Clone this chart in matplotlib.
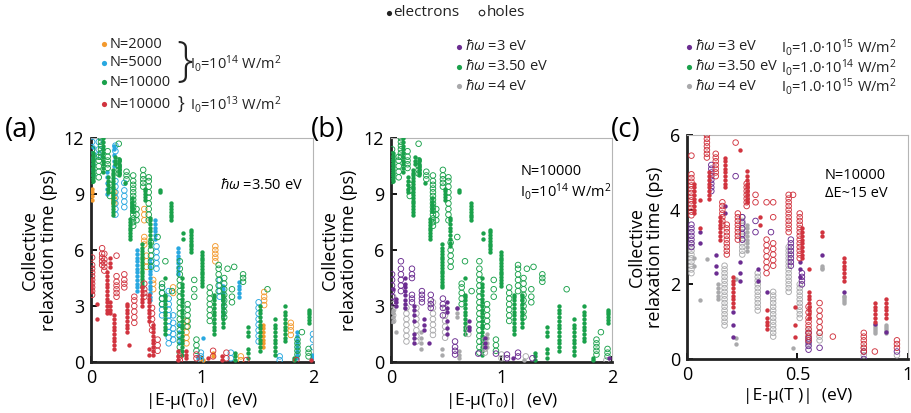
import matplotlib.pyplot as plt

plt.rcParams['font.family'] = ['Open Sans', 'DejaVu Sans']
plt.rcParams['mathtext.fontset'] = 'custom'
plt.rcParams['mathtext.rm'] = 'Open Sans'
plt.rcParams['mathtext.it'] = 'Open Sans:italic'

ORANGE = '#f39a2e'
BLUE = '#29a8e0'
GREEN = '#1aa14b'
RED = '#d1343f'
PURPLE = '#6b2c91'
GRAY = '#a9a9ab'

# --- data: (energy, [relaxation times]) for each level cluster ---
# N=10000, I0=1e14, hw=3.50 eV (panel a and b)
GREEN_E = [
    (0.02, [9.7, 9.85, 10.0, 10.15, 10.3, 10.45, 10.6, 10.75, 10.9, 11.05, 11.2]),
    (0.11, [10.2, 10.4, 10.6, 10.8, 11.0, 11.2, 11.4, 11.6, 11.8, 12.0]),
    (0.15, [9.1, 9.3, 9.5, 9.7, 9.9]),
    (0.20, [7.9, 8.05, 8.2, 8.35, 8.5, 8.65, 8.8, 8.95, 9.1, 9.25, 9.4, 9.55, 9.7, 9.85, 10.0, 10.15, 10.3]),
    (0.22, [10.6, 10.8, 11.0]),
    (0.25, [10.0, 10.15, 10.3, 10.45, 10.6, 10.75, 10.9]),
    (0.31, [9.6]),
    (0.35, [6.6, 6.75, 6.9, 7.05, 7.2, 7.35, 7.5, 7.65]),
    (0.37, [8.1, 8.25, 8.4, 8.6, 8.8]),
    (0.46, [4.0, 4.15, 4.3, 4.45, 4.6, 4.75, 4.9, 5.05, 5.2, 5.35, 5.5, 5.65, 5.8, 5.95, 6.1, 6.3]),
    (0.49, [8.7, 8.85, 9.0, 9.15, 9.3]),
    (0.53, [6.2, 6.4, 6.6, 6.8, 7.0, 7.2, 7.4, 7.6, 7.7]),
    (0.62, [9.1, 9.2]),
    (0.67, [1.5, 1.7, 1.9, 2.1, 2.3, 2.5, 2.7, 2.9, 3.1, 3.3, 3.5, 3.6, 4.5]),
    (0.72, [7.6, 7.75, 7.9, 8.05, 8.2, 8.35, 8.5]),
    (0.82, [0.4, 0.6, 0.8, 1.0, 1.2, 1.4, 1.6, 1.8, 2.0, 2.2, 2.4, 2.6, 2.8, 3.0, 3.2, 3.4, 3.6, 3.8,
            4.0, 4.2, 4.5]),
    (0.83, [6.6, 6.9]),
    (0.90, [5.9, 6.05, 6.2, 6.35, 6.5, 6.65, 6.8, 6.95, 7.1]),
    (1.00, [4.1, 4.25, 4.4, 4.55, 4.7, 4.85, 5.0, 5.15, 5.3, 5.45, 5.6, 5.75, 5.9]),
    (1.11, [1.5, 1.7, 1.9, 2.1, 2.3, 2.5, 2.7, 2.9, 3.1, 3.3, 3.5, 3.6]),
    (1.19, [1.9, 2.1, 2.3, 2.5, 2.7, 2.9, 3.1, 3.3, 3.5, 3.6]),
    (1.30, [0.1, 0.3, 0.5]),
    (1.41, [1.4, 1.6, 1.9, 0.2, 0.5, 0.7]),
    (1.52, [0.6, 0.8, 1.0, 1.2, 1.4, 1.6, 1.8, 2.0, 2.2, 2.4, 2.6, 2.8, 3.0]),
    (1.66, [0.4, 0.6, 0.8, 1.0, 1.2, 1.4, 1.6, 1.8, 2.0, 2.3]),
    (1.75, [1.1, 1.3, 1.5, 1.7, 1.9, 2.1, 2.3, 2.5, 2.7, 3.0]),
    (1.83, [0.1, 0.2]),
    (1.96, [2.1, 2.25, 2.4, 2.55, 2.7, 2.8]),
]
GREEN_H = [
    (0.01, [9.7, 9.9, 10.1, 10.3, 10.5, 10.7, 10.9, 11.1, 11.4]),
    (0.07, [9.9, 10.2, 10.5, 10.8, 11.0]),
    (0.09, [11.0, 11.2, 11.4, 11.6, 11.8, 12.0]),
    (0.15, [10.4, 10.6, 10.8, 11.0, 11.3]),
    (0.17, [8.9, 9.2, 9.5]),
    (0.25, [10.1, 10.3, 10.5, 10.8, 11.7]),
    (0.32, [9.8, 10.0, 10.2]),
    (0.38, [7.3, 7.5, 7.7, 7.9, 8.1, 8.3, 8.5, 8.7, 8.9, 9.1, 9.3, 9.5, 9.7, 10.0]),
    (0.41, [7.6, 7.9, 8.2]),
    (0.47, [9.4, 9.6, 9.8, 10.0, 10.3]),
    (0.52, [7.6, 7.9, 8.2, 8.5, 8.8, 9.1, 9.4, 9.7, 9.9]),
    (0.54, [5.1, 5.4, 5.7, 6.0, 6.4]),
    (0.60, [6.7]),
    (0.64, [3.1, 3.4, 3.7, 4.0, 4.2]),
    (0.67, [5.4]),
    (0.73, [3.8]),
    (0.80, [0.5, 0.8, 1.1, 1.4, 1.7, 2.0, 2.3, 2.6, 2.9, 3.2, 3.5, 3.8, 4.1, 4.4, 4.7, 5.0, 5.4]),
    (0.87, [1.9, 2.2, 2.5, 2.8, 3.1]),
    (0.93, [3.5, 3.9, 4.4]),
    (0.95, [0.6, 0.9, 1.2]),
    (1.07, [2.2, 2.5, 2.8, 3.1, 3.4, 3.7, 4.0]),
    (1.15, [3.8, 4.1, 4.4, 4.7, 5.0, 5.2]),
    (1.20, [2.4, 2.7, 3.0, 3.3, 3.6, 3.9, 4.2, 4.5]),
    (1.23, [5.0]),
    (1.27, [3.2, 3.5, 3.9]),
    (1.29, [5.1]),
    (1.37, [4.3, 4.5, 4.7]),
    (1.59, [3.9]),
    (1.86, [0.4, 0.6, 0.8, 1.0, 1.2]),
    (1.90, [1.6]),
    (1.96, [0.3, 0.5, 0.7]),
]

# panel a: N=5000 / N=2000 at I0=1e14, N=10000 at I0=1e13
BLUE_E = [
    (0.02, [10.0, 10.3, 10.6, 10.9, 11.2, 11.5]),
    (0.14, [9.0, 9.3, 9.6, 9.9, 10.2]),
    (0.21, [10.5, 10.8, 11.1, 11.4, 11.6]),
    (0.41, [3.8, 4.0, 4.2, 4.4, 4.6, 4.8, 5.0, 5.2, 5.4, 5.6, 5.8, 6.0]),
    (0.53, [3.3, 3.5, 3.7, 3.9, 4.1, 4.3, 4.5, 4.7, 4.9, 5.1, 5.3, 5.5]),
    (0.58, [6.6, 6.8, 7.0, 7.2, 7.4, 7.6]),
    (0.78, [4.7, 4.9, 5.1, 5.3, 5.5, 5.7, 5.9, 6.1]),
    (0.79, [1.0, 1.3, 1.6, 2.0]),
    (0.96, [0.2, 0.3]),
    (1.01, [1.3]),
    (1.19, [2.5, 2.7, 2.9, 3.1, 3.3, 3.5, 3.7, 3.9, 4.1]),
    (1.33, [3.5, 3.7, 3.9, 4.1, 4.3]),
    (1.86, [0.2, 0.4, 0.6, 0.8, 1.0, 1.2, 1.4, 1.6]),
    (1.99, [0.2, 0.4]),
]
BLUE_H = [
    (0.01, [10.5, 10.8, 11.1, 11.4, 11.8]),
    (0.07, [11.1, 11.4, 11.8]),
    (0.22, [7.9, 8.2, 8.5, 8.8, 9.1, 9.4, 9.7, 11.3, 11.6]),
    (0.30, [8.3, 8.6, 8.9, 9.2, 9.6]),
    (0.59, [5.0, 5.3, 5.6, 5.9, 6.2]),
    (0.64, [2.5, 2.8, 3.1, 3.4, 3.7, 4.0]),
    (0.70, [1.0, 1.3, 1.6, 1.9, 2.2, 2.5, 2.8, 3.1, 3.4, 3.8]),
    (0.74, [1.2, 1.5, 1.8, 2.1, 2.5]),
    (0.99, [0.1, 0.3, 0.5]),
    (1.16, [3.5, 3.8, 4.1, 4.4]),
    (1.26, [0.2, 0.5]),
    (1.51, [1.1, 1.4, 1.7, 2.0, 2.3, 2.6, 2.9, 3.2]),
    (1.70, [0.1, 0.3]),
    (2.00, [0.8, 1.2, 1.5]),
]
ORANGE_E = [
    (0.01, [8.7, 8.9, 9.1, 9.3]),
    (1.01, [0.1]),
    (1.10, [0.3, 0.5]),
    (1.55, [0.8, 1.0, 1.2, 1.4, 1.6, 1.8, 2.0]),
]
ORANGE_H = [
    (0.21, [8.5, 8.7, 8.9, 9.1]),
    (0.48, [6.3, 6.5, 6.7, 7.6, 7.9, 8.2]),
    (0.50, [5.1, 5.4, 5.7]),
    (0.56, [3.9, 4.2, 4.4]),
    (0.74, [3.7, 4.0]),
    (0.86, [1.0, 1.3, 1.6, 1.9, 2.2]),
    (0.98, [0.2]),
    (1.12, [5.4, 5.6, 5.8, 6.0, 6.2]),
    (1.35, [0.1, 0.3]),
    (1.56, [3.05, 3.3, 3.5, 3.75]),
    (1.80, [1.45, 1.7, 1.9, 2.1]),
]
RED_E = [
    (0.00, [3.8, 4.0, 4.2, 4.4]),
    (0.05, [2.3, 3.1]),
    (0.14, [2.6, 2.8, 3.0, 3.2, 3.4, 3.6, 3.8, 4.0, 4.2, 4.4, 4.6, 4.8]),
    (0.17, [2.6, 2.8, 3.0, 3.2, 5.1, 5.3, 5.6]),
    (0.21, [0.7, 0.9, 1.1, 1.3, 1.5, 1.7, 1.9, 2.1, 2.3, 2.5]),
    (0.32, [1.6, 1.8, 2.0, 2.2, 2.4, 2.6, 2.8, 3.0, 3.1]),
    (0.34, [0.9]),
    (0.46, [3.0, 3.2, 3.4, 3.6, 3.8, 4.0]),
    (0.52, [2.2, 2.4, 2.6, 2.8, 3.0, 3.2, 3.4, 3.6, 0.4, 0.7]),
    (0.56, [0.4, 0.6, 0.8, 1.0, 1.2, 1.4, 1.6, 1.8, 2.0]),
    (0.78, [0.1, 0.3, 0.6]),
    (0.86, [0.2, 0.4, 0.6]),
    (1.05, [0.2]),
    (1.18, [0.1, 0.3]),
    (1.98, [0.1]),
]
RED_H = [
    (0.01, [3.6, 3.8, 4.0, 4.2, 4.4, 4.6, 4.8, 5.0, 5.2, 5.6]),
    (0.10, [5.2, 5.4, 5.6, 5.8, 6.1]),
    (0.12, [4.9, 5.1, 5.3, 5.5, 5.8]),
    (0.23, [3.5, 3.7, 3.9, 4.1, 4.3, 4.6, 5.7]),
    (0.30, [4.0, 4.2, 4.4, 4.7]),
    (0.39, [2.1, 2.4, 2.7, 3.0, 3.3, 3.5]),
    (0.48, [3.5, 3.7, 3.9, 4.2]),
    (0.55, [1.7, 2.0, 2.3, 2.6, 2.9]),
    (0.60, [0.6, 0.9, 1.2]),
    (0.80, [0.1, 0.3]),
    (0.95, [0.2, 0.4]),
    (1.10, [0.3, 0.6]),
    (1.22, [0.2, 0.5]),
    (1.40, [0.1]),
    (1.85, [0.1]),
]

# panel b: hw=3 eV and hw=4 eV
PURPLE_E = [
    (0.02, [3.9]),
    (0.05, [3.0, 3.2, 3.4]),
    (0.13, [2.9, 3.1, 3.3, 3.6, 3.8, 4.0, 4.2, 4.5]),
    (0.21, [2.2, 2.5, 2.8, 3.0, 1.0, 1.3, 1.5]),
    (0.30, [1.7, 2.0, 2.3]),
    (0.34, [1.0]),
    (0.51, [2.7, 2.9, 3.2, 1.5, 1.8, 2.2]),
    (0.60, [2.9]),
    (0.71, [1.7, 1.9, 2.2]),
    (0.85, [0.8, 1.0, 1.3]),
    (1.10, [0.2]),
    (1.97, [0.2]),
]
PURPLE_H = [
    (0.01, [3.2, 3.5, 3.8, 4.1, 4.4, 4.7]),
    (0.09, [3.8, 4.1, 4.4, 4.7, 5.0, 5.4]),
    (0.19, [4.5, 4.7, 5.0, 3.2, 3.4, 3.6]),
    (0.28, [3.2, 3.4, 3.6, 3.8]),
    (0.36, [2.9, 3.1, 3.3, 3.6]),
    (0.47, [2.5, 2.9, 3.1, 3.4]),
    (0.58, [0.4, 0.6, 0.8, 1.1]),
    (0.79, [0.45]),
    (0.95, [0.45]),
    (1.05, [0.2, 0.4]),
    (1.15, [0.3, 0.5]),
    (1.28, [0.2]),
]
GRAY_E = [
    (0.02, [2.2, 2.4, 2.6, 2.8]),
    (0.05, [1.6]),
    (0.27, [0.7, 1.0, 1.3, 1.6]),
    (0.46, [0.4, 0.7]),
    (0.60, [2.4, 2.6, 2.9]),
    (0.62, [0.2, 0.4, 0.6]),
    (0.87, [0.8, 1.0, 1.3, 1.5]),
    (1.20, [0.1]),
]
GRAY_H = [
    (0.02, [2.2, 2.5, 2.8, 3.1, 3.5]),
    (0.14, [1.1, 1.4, 1.7, 2.0, 2.3, 2.6, 2.9]),
    (0.23, [1.1, 1.4, 1.7, 2.0, 2.3, 2.6, 2.9]),
    (0.38, [1.45, 1.7, 2.0, 2.3, 2.6, 2.9, 3.2]),
    (0.49, [1.3, 1.6, 1.9, 2.2, 2.5, 2.9]),
    (0.70, [1.5, 1.8]),
    (0.85, [0.5, 0.7, 0.9, 1.2]),
    (1.00, [0.2, 0.4]),
    (1.22, [0.3]),
    (1.95, [0.1]),
]

# panel c: N=10000, dE~15 eV
C_RED_E = [
    (0.03, [3.9, 4.0, 4.1, 4.2, 4.3, 4.4, 4.5, 4.6, 4.7]),
    (0.06, [3.5, 4.25]),
    (0.10, [4.3, 4.4, 4.5, 4.6, 4.7, 4.8, 4.9, 5.0]),
    (0.15, [3.2, 3.3, 3.4, 3.5, 3.6, 3.7, 3.8]),
    (0.17, [4.6, 4.7, 4.8, 4.9, 5.0, 5.1, 5.2, 5.3, 5.4]),
    (0.21, [1.4, 1.5, 1.6, 1.7, 1.8, 1.9, 2.0, 2.1, 2.2]),
    (0.24, [5.6]),
    (0.27, [4.2, 4.3, 4.4, 4.5, 4.6, 4.7, 4.8, 4.9, 5.05]),
    (0.33, [3.6, 3.8]),
    (0.36, [0.8, 0.9, 1.0, 1.1, 1.3]),
    (0.49, [0.6, 0.9, 1.4]),
    (0.52, [2.7, 2.8, 2.9, 3.0, 3.1, 3.2, 3.3, 3.4, 3.5]),
    (0.55, [1.1, 1.2, 1.3, 1.4, 1.5, 1.6, 1.7, 1.8, 2.4]),
    (0.61, [3.3, 3.4]),
    (0.71, [2.1, 2.2, 2.3, 2.4, 2.5, 2.6, 2.7]),
    (0.85, [1.0, 1.1, 1.2, 1.3, 1.4, 1.5]),
    (0.90, [1.1, 1.2, 1.3, 1.4, 1.5, 1.6]),
]
C_RED_H = [
    (0.02, [3.85, 3.95, 4.05, 4.15, 4.25, 4.35, 4.45, 4.55, 4.65, 4.75, 4.85, 4.95, 5.45]),
    (0.09, [5.4, 5.5, 5.6, 5.7, 5.8, 5.9, 6.0]),
    (0.13, [4.9, 5.0, 5.1, 5.2, 5.3, 5.4, 5.5]),
    (0.16, [3.6, 3.7, 3.8, 3.9, 4.0, 4.1, 4.2]),
    (0.18, [2.8, 2.9, 3.0, 3.1, 3.2, 3.3, 3.4, 3.5, 3.6]),
    (0.22, [5.8]),
    (0.23, [3.2, 3.3, 3.4, 3.5, 3.6, 3.7, 3.8, 3.9]),
    (0.27, [4.1, 4.2, 4.3, 4.4, 4.5, 4.6, 4.7]),
    (0.31, [4.2, 4.4]),
    (0.36, [2.3, 2.45, 2.6, 2.75, 2.9, 3.05, 3.2, 4.2]),
    (0.39, [2.5, 2.65, 2.8, 2.95, 3.1, 3.8, 4.2]),
    (0.46, [3.4, 3.5, 3.6, 3.7, 3.8, 3.9, 4.0, 4.1, 4.2, 4.3, 4.4]),
    (0.48, [4.4]),
    (0.51, [2.7, 2.8, 2.9, 3.0, 3.1, 3.2, 3.3, 3.4, 3.5, 3.6, 3.7, 3.8, 3.9]),
    (0.55, [0.5, 0.6, 0.7, 0.8, 0.9, 1.0, 1.1, 1.25, 1.4]),
    (0.60, [0.7, 0.85, 1.0, 1.15, 1.3, 1.5]),
    (0.66, [0.6]),
    (0.80, [0.2, 0.3, 0.4, 0.5, 0.6, 0.7]),
    (0.85, [0.2]),
    (0.95, [0.3, 0.4, 0.5]),
]
C_PURPLE_E = [
    (0.06, [3.1, 3.4]),
    (0.13, [2.3, 2.5, 2.8]),
    (0.17, [3.9, 4.1]),
    (0.21, [0.6, 0.9, 1.26]),
    (0.24, [2.1, 2.3, 2.6]),
    (0.32, [2.1, 2.4]),
    (0.36, [1.8]),
    (0.51, [2.2, 2.4, 2.6]),
    (0.61, [2.8]),
    (0.71, [1.8]),
    (0.85, [0.95]),
    (0.90, [0.72]),
]
C_PURPLE_H = [
    (0.02, [3.0, 3.1, 3.2, 3.3, 3.4, 3.5, 3.6]),
    (0.11, [4.5, 4.6, 4.7, 4.8, 4.9, 5.0, 5.1, 5.2]),
    (0.22, [4.9]),
    (0.25, [3.2, 3.35, 3.5, 3.65, 3.8]),
    (0.31, [3.4, 3.7]),
    (0.38, [3.4]),
    (0.47, [2.5, 2.6, 2.7, 2.8, 2.9, 3.0, 3.1, 3.2]),
    (0.52, [2.0, 2.1, 2.2, 2.3]),
    (0.55, [0.25, 0.35, 0.45, 0.55, 0.7]),
    (0.60, [0.3]),
    (0.80, [0.0, 0.2]),
    (0.95, [0.2]),
]
C_GRAY_E = [
    (0.03, [2.5, 2.7]),
    (0.06, [1.57]),
    (0.09, [2.68]),
    (0.14, [1.6, 1.7, 1.8, 1.9, 2.0]),
    (0.22, [0.4, 0.55, 2.15]),
    (0.27, [2.9, 3.0, 3.1, 3.2, 3.3, 3.4, 3.5, 3.6]),
    (0.48, [0.3]),
    (0.61, [2.4, 2.45, 2.5]),
    (0.71, [1.5, 1.55, 1.6, 1.65, 1.7]),
    (0.85, [0.7, 0.75, 0.8, 0.85, 0.9]),
    (0.90, [0.7, 0.75, 0.8, 0.85, 0.9]),
]
C_GRAY_H = [
    (0.02, [2.3, 2.4, 2.5, 2.6, 2.7, 2.8, 2.9, 3.0, 3.1]),
    (0.17, [0.9, 1.0, 1.1, 1.2, 1.3, 1.4, 1.5, 1.6, 1.7, 1.8, 1.9, 2.0, 2.1, 2.2, 2.3, 2.4, 2.5]),
    (0.25, [2.8, 2.9, 3.0, 3.1, 3.2, 3.3, 3.4, 3.5, 3.6, 3.7, 3.8]),
    (0.32, [1.3, 1.4, 1.5, 1.6, 1.7, 1.8, 1.9, 2.0, 2.1, 2.2, 2.3]),
    (0.39, [0.6, 0.7, 0.8, 0.9, 1.0, 1.1, 1.2, 1.3, 1.4, 1.5, 1.6, 1.7, 1.8]),
    (0.46, [1.8, 1.9, 2.0, 2.1, 2.2, 2.3, 2.4, 2.5, 2.6, 2.7, 2.8, 2.9, 3.0]),
    (0.51, [1.1, 1.2, 1.3, 1.4, 1.5, 1.6, 1.7, 1.8, 1.9, 2.0]),
    (0.55, [0.4, 0.5, 0.6, 0.7, 0.8]),
    (0.60, [0.5, 0.6, 0.7]),
    (0.80, [0.1, 0.2, 0.3]),
    (0.95, [0.1]),
]


def draw(ax, clusters, color, filled):
    xs = [x for x, ys in clusters for _ in ys]
    ys = [y for _, yy in clusters for y in yy]
    if filled:
        ax.scatter(xs, ys, s=10, color=color, linewidths=0, zorder=3)
    else:
        ax.scatter(xs, ys, s=16, facecolors='none', edgecolors=color, linewidths=0.65, zorder=3)


def style(ax, xmax, ymax, yticks, xticks, xlabel):
    ax.set_xlim(0, xmax)
    ax.set_ylim(0, ymax)
    ax.set_xticks(xticks)
    ax.set_yticks(yticks)
    ax.set_xticklabels([('%g' % t) for t in xticks])
    ax.tick_params(direction='in', length=4, width=1.3, labelsize=13, pad=5)
    for s in ['left', 'bottom']:
        ax.spines[s].set_linewidth(2)
        ax.spines[s].set_color('#222222')
    for s in ['top', 'right']:
        ax.spines[s].set_linewidth(0.8)
        ax.spines[s].set_color('#b5b5b5')
    ax.set_ylabel('Collective\nrelaxation time (ps)', fontsize=13, linespacing=1.05, labelpad=4)
    ax.set_xlabel(xlabel, fontsize=12.5, labelpad=3)


fig = plt.figure(figsize=(9.12, 4.13), dpi=100)
ax_a = fig.add_axes([0.0998, 0.1235, 0.2434, 0.542])
ax_b = fig.add_axes([0.4287, 0.1235, 0.2423, 0.542])
ax_c = fig.add_axes([0.7533, 0.1308, 0.2423, 0.542])

xl0 = '|E-μ(T$_0$)|  (eV)'

# (a)
for data, c, f in [(ORANGE_E, ORANGE, True), (ORANGE_H, ORANGE, False),
                   (BLUE_E, BLUE, True), (BLUE_H, BLUE, False),
                   (GREEN_E, GREEN, True), (GREEN_H, GREEN, False),
                   (RED_E, RED, True), (RED_H, RED, False)]:
    draw(ax_a, data, c, f)
style(ax_a, 2, 12, [0, 3, 6, 9, 12], [0, 1, 2], xl0)
ax_a.text(0.58, 0.79, r'$\hbar\omega$ =3.50 eV', transform=ax_a.transAxes, fontsize=10.5, va='center')

# (b)
for data, c, f in [(GREEN_E, GREEN, True), (GREEN_H, GREEN, False),
                   (GRAY_E, GRAY, True), (GRAY_H, GRAY, False),
                   (PURPLE_E, PURPLE, True), (PURPLE_H, PURPLE, False)]:
    draw(ax_b, data, c, f)
style(ax_b, 2, 12, [0, 3, 6, 9, 12], [0, 1, 2], xl0)
ax_b.text(0.585, 0.85, 'N=10000', transform=ax_b.transAxes, fontsize=10.5, va='center')
ax_b.text(0.585, 0.76, 'I$_0$=10$^{14}$ W/m$^2$', transform=ax_b.transAxes, fontsize=10.5, va='center')

# (c)
for data, c, f in [(C_GRAY_E, GRAY, True), (C_GRAY_H, GRAY, False),
                   (C_PURPLE_E, PURPLE, True), (C_PURPLE_H, PURPLE, False),
                   (C_RED_E, RED, True), (C_RED_H, RED, False)]:
    draw(ax_c, data, c, f)
style(ax_c, 1, 6, [0, 2, 4, 6], [0, 0.5, 1], '|E-μ(T )|  (eV)')
ax_c.text(0.625, 0.82, 'N=10000', transform=ax_c.transAxes, fontsize=10.5, va='center')
ax_c.text(0.625, 0.74, 'ΔE~15 eV', transform=ax_c.transAxes, fontsize=10.5, va='center')

# panel letters
fig.text(5 / 912, 1 - 130 / 413, '(a)', fontsize=20, va='center')
fig.text(311 / 912, 1 - 130 / 413, '(b)', fontsize=20, va='center')
fig.text(611 / 912, 1 - 130 / 413, '(c)', fontsize=20, va='center')

# legends drawn on an overlay in pixel units
ov = fig.add_axes([0, 0, 1, 1], zorder=-1)
ov.set_xlim(0, 912)
ov.set_ylim(413, 0)
ov.axis('off')

ov.scatter([389], [13], s=14, color='#222222', linewidths=0)
ov.text(393, 13, 'electrons', fontsize=11, va='center', color='#222222')
ov.scatter([482], [13], s=16, facecolors='none', edgecolors='#222222', linewidths=0.8)
ov.text(487, 13, 'holes', fontsize=11, va='center', color='#222222')

leg1 = [('N=2000', ORANGE, 44), ('N=5000', BLUE, 63), ('N=10000', GREEN, 82), ('N=10000', RED, 104)]
for label, c, y in leg1:
    ov.scatter([104], [y], s=14, color=c, linewidths=0)
    ov.text(110, y, label, fontsize=10.5, va='center', color='#222222')
ov.text(176, 63, '}', fontsize=34, va='center', fontweight='light', color='#222222')
ov.text(190, 63, 'I$_0$=10$^{14}$ W/m$^2$', fontsize=10.5, va='center', color='#222222')
ov.text(177, 104, '}', fontsize=13, va='center', color='#222222')
ov.text(190, 104, 'I$_0$=10$^{13}$ W/m$^2$', fontsize=10.5, va='center', color='#222222')

leg2 = [(r'$\hbar\omega$ =3 eV', PURPLE, 47), (r'$\hbar\omega$ =3.50 eV', GREEN, 67), (r'$\hbar\omega$ =4 eV', GRAY, 86)]
for label, c, y in leg2:
    ov.scatter([459], [y], s=14, color=c, linewidths=0)
    ov.text(465, y, label, fontsize=10.5, va='center', color='#222222')

leg3 = [(r'$\hbar\omega$ =3 eV', PURPLE, 47, '15'), (r'$\hbar\omega$ =3.50 eV', GREEN, 67, '14'),
        (r'$\hbar\omega$ =4 eV', GRAY, 86, '15')]
for label, c, y, p in leg3:
    ov.scatter([689], [y], s=14, color=c, linewidths=0)
    ov.text(695, y, label, fontsize=10.5, va='center', color='#222222')
    ov.text(781, y, 'I$_0$=1.0·10$^{%s}$ W/m$^2$' % p, fontsize=10.5, va='center', color='#222222')

fig.savefig('out.png', dpi=100)
